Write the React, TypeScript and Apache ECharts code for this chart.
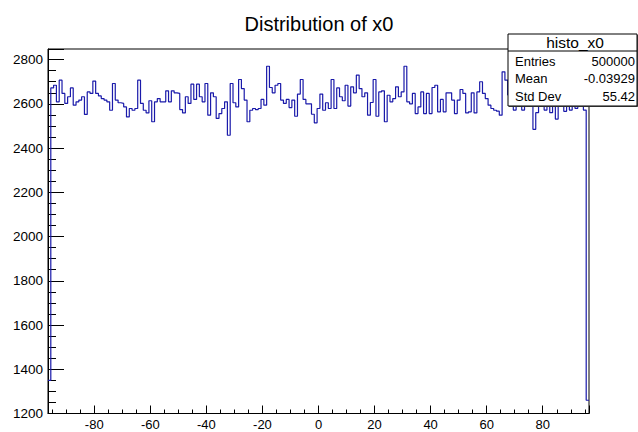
import React, { useEffect, useRef } from "react";
import * as echarts from "echarts";

const TITLE = "Distribution of x0";
const X_MIN = -96.5;
const X_MAX = 96.5;
const BIN_WIDTH = 1;
const Y_MIN = 1200;
const Y_MAX = 2848;

// bin contents, bins centered at -96 ... 96
const binValues: number[] = [
  1350, 2672, 2684, 2609, 2707, 2647, 2602, 2632, 2672, 2594,
  2609, 2617, 2632, 2552, 2654, 2647, 2703, 2647, 2636, 2624,
  2617, 2609, 2571, 2692, 2617, 2605, 2602, 2586, 2541, 2579,
  2571, 2579, 2707, 2602, 2571, 2559, 2614, 2519, 2609, 2624,
  2609, 2609, 2659, 2609, 2659, 2650, 2647, 2574, 2559, 2632,
  2602, 2689, 2620, 2689, 2632, 2609, 2692, 2549, 2650, 2632,
  2534, 2556, 2579, 2609, 2458, 2692, 2605, 2586, 2710, 2669,
  2617, 2519, 2571, 2579, 2574, 2579, 2620, 2594, 2770, 2674,
  2650, 2684, 2692, 2617, 2602, 2620, 2583, 2617, 2544, 2644,
  2710, 2620, 2600, 2600, 2553, 2514, 2579, 2644, 2571, 2605,
  2579, 2710, 2579, 2672, 2632, 2614, 2684, 2590, 2677, 2650,
  2730, 2669, 2632, 2650, 2549, 2606, 2710, 2544, 2654, 2659,
  2519, 2639, 2609, 2624, 2677, 2632, 2654, 2770, 2609, 2600,
  2647, 2556, 2586, 2654, 2556, 2647, 2556, 2674, 2684, 2564,
  2620, 2564, 2650, 2650, 2617, 2556, 2617, 2665, 2647, 2559,
  2564, 2650, 2559, 2654, 2700, 2647, 2624, 2594, 2579, 2571,
  2567, 2549, 2745, 2707, 2640, 2650, 2572, 2630, 2610, 2572,
  2640, 2660, 2620, 2485, 2560, 2630, 2600, 2572, 2640, 2560,
  2620, 2531, 2600, 2640, 2566, 2610, 2572, 2620, 2580, 2650,
  2620, 2572, 1260,
];

const statsTitle = "histo_x0";
const statsLabels = ["Entries", "Mean", "Std Dev"];
const statsValues = ["500000", "-0.03929", "55.42"];

const FONT = '"Liberation Sans", Arial, Helvetica, sans-serif';

export default function App() {
  const ref = useRef<HTMLDivElement>(null);

  useEffect(() => {
    if (!ref.current) return;
    const chart = echarts.init(ref.current, undefined, { renderer: "svg" });

    const points: number[][] = [];
    binValues.forEach((v, k) => {
      const lo = X_MIN + k * BIN_WIDTH;
      points.push([lo, v], [lo + BIN_WIDTH, v]);
    });

    const boxX = 508;
    const boxY = 34;
    const boxW = 129;
    const boxH = 72;
    const rowYs = [61, 78.5, 96];

    const graphics: any[] = [
      {
        type: "rect",
        z: 100,
        shape: { x: boxX + 1, y: boxY + 1, width: boxW, height: boxH },
        style: { fill: "#555", stroke: "none" },
      },
      {
        type: "rect",
        z: 101,
        shape: { x: boxX, y: boxY, width: boxW, height: boxH },
        style: { fill: "#fff", stroke: "#000", lineWidth: 1 },
      },
      {
        type: "line",
        z: 102,
        shape: { x1: boxX, y1: 51, x2: boxX + boxW, y2: 51 },
        style: { stroke: "#000", lineWidth: 1 },
      },
      {
        type: "text",
        z: 103,
        x: 575,
        y: 42,
        style: {
          text: statsTitle,
          fill: "#000",
          fontSize: 15.5,
          fontFamily: FONT,
          align: "center",
          verticalAlign: "middle",
        },
      },
    ];
    statsLabels.forEach((lab, i) => {
      graphics.push({
        type: "text",
        z: 103,
        x: 515,
        y: rowYs[i],
        style: {
          text: lab,
          fill: "#000",
          fontSize: 13,
          fontFamily: FONT,
          align: "left",
          verticalAlign: "middle",
        },
      });
      graphics.push({
        type: "text",
        z: 103,
        x: 635,
        y: rowYs[i],
        style: {
          text: statsValues[i],
          fill: "#000",
          fontSize: 13,
          fontFamily: FONT,
          align: "right",
          verticalAlign: "middle",
        },
      });
    });

    chart.setOption({
      animation: false,
      backgroundColor: "#fff",
      title: {
        text: TITLE,
        left: "center",
        top: 9,
        textStyle: { fontSize: 20, fontWeight: "normal", fontFamily: FONT, color: "#000" },
      },
      grid: {
        left: 48,
        right: 49,
        top: 49,
        bottom: 18.5,
        containLabel: false,
        outerBoundsMode: "none",
        show: true,
        borderColor: "#000",
        borderWidth: 1,
        backgroundColor: "transparent",
      },
      xAxis: {
        type: "value",
        min: X_MIN,
        max: X_MAX,
        splitNumber: 10,
        axisLine: { show: true, onZero: false, lineStyle: { color: "#000", width: 1 } },
        axisTick: { show: true, inside: true, length: 8, lineStyle: { color: "#000" } },
        minorTick: { show: true, splitNumber: 4, length: 4, lineStyle: { color: "#000" } },
        splitLine: { show: false },
        axisLabel: {
          showMinLabel: false,
          showMaxLabel: false,
          margin: 4,
          lineHeight: 13,
          color: "#000",
          fontSize: 13,
          fontFamily: FONT,
        },
      },
      yAxis: {
        type: "value",
        min: Y_MIN,
        max: Y_MAX,
        interval: 200,
        axisLine: { show: true, onZero: false, lineStyle: { color: "#000", width: 1 } },
        axisTick: { show: true, inside: true, length: 16, lineStyle: { color: "#000" } },
        minorTick: { show: true, splitNumber: 4, length: 8, lineStyle: { color: "#000" } },
        splitLine: { show: false },
        axisLabel: {
          showMaxLabel: false,
          margin: 5,
          color: "#000",
          fontSize: 13.5,
          fontFamily: FONT,
          formatter: (v: number) => (v % 200 === 0 ? String(v) : ""),
        },
      },
      series: [
        {
          type: "line",
          data: points,
          symbol: "none",
          showSymbol: false,
          clip: true,
          z: 10,
          lineStyle: { color: "#1a1aaa", width: 1.2 },
        },
      ],
      graphic: graphics,
    });

    return () => chart.dispose();
  }, []);

  return (
    <div
      ref={ref}
      style={{ position: "fixed", left: 0, top: 0, width: 638, height: 432 }}
    />
  );
}
